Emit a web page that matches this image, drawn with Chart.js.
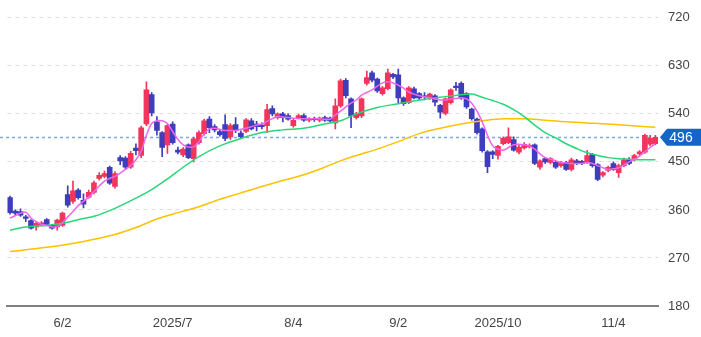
<!DOCTYPE html>
<html><head><meta charset="utf-8">
<script src="https://cdn.jsdelivr.net/npm/chart.js@4/dist/chart.umd.min.js"></script>
<style>html,body{margin:0;padding:0;background:#fff;}canvas{display:block;}</style>
</head><body>
<canvas id="c" width="701" height="337"></canvas>
<script>
const dates = ['5/19','5/20','5/21','5/22','5/23','5/26','5/27','5/28','5/29','5/30',
'6/2','6/3','6/4','6/5','6/6','6/9','6/10','6/11','6/12','6/13','6/16','6/17','6/18','6/19','6/20','6/23','6/24','6/25','6/26','6/27','6/30',
'7/1','7/2','7/3','7/4','7/7','7/8','7/9','7/10','7/11','7/14','7/15','7/16','7/17','7/18','7/22','7/23','7/24','7/25','7/28','7/29','7/30','7/31',
'8/1','8/4','8/5','8/6','8/7','8/8','8/12','8/13','8/14','8/15','8/18','8/19','8/20','8/21','8/22','8/25','8/26','8/27','8/28','8/29',
'9/1','9/2','9/3','9/4','9/5','9/8','9/9','9/10','9/11','9/12','9/16','9/17','9/18','9/19','9/22','9/24','9/25','9/26','9/29','9/30',
'10/1','10/2','10/3','10/6','10/7','10/8','10/9','10/10','10/14','10/15','10/16','10/17','10/20','10/21','10/22','10/23','10/24','10/27','10/28','10/29','10/30','10/31',
'11/4','11/5','11/6','11/7','11/10','11/11','11/12','11/13','11/14'];

const opens = [383,358,357,347,340,328,332,342,331,328, 331,389,376,397,378,384,393,419,423,440, 404,458,457,440,476,462,521,576,525,505, 482,521,472,463,482,456,486,503,530,516, 507,520,497,520,504,507,527,521,519,518, 550,533,540,537,518,533,537,528,531,528, 533,532,523,555,603,568,533,536,597,617, 605,578,587,614,613,570,561,587,578,574, 570,574,556,541,561,592,597,578,549,530, 512,469,469,462,484,486,492,468,476,478, 482,440,456,449,449,443,449,436,452,451, 449,464,445,425,434,447,430,443,454,454, 465,468,483,484];
const highs = [386,360,362,350,342,338,338,344,333,343, 356,405,414,400,390,397,414,430,433,442, 432,462,460,470,484,517,600,580,535,507, 520,525,478,477,484,496,508,530,535,520, 510,538,522,533,508,531,531,526,523,558, 555,542,543,540,530,539,540,533,534,534, 536,534,568,605,606,570,543,570,620,620, 607,591,624,616,624,572,591,590,580,580, 579,576,558,570,587,599,600,580,551,532, 514,471,471,481,497,514,497,481,486,484, 484,454,458,458,451,451,451,457,455,453, 471,466,447,432,442,450,446,457,458,464, 471,502,500,500];
const lows = [352,351,348,338,324,322,330,331,324,322, 329,365,372,380,364,382,390,416,420,408, 401,445,437,438,463,458,518,536,500,460, 466,483,465,460,456,450,483,500,505,506, 498,490,492,505,494,505,510,508,512,505, 536,530,525,528,515,531,526,525,526,525, 526,525,512,552,570,514,530,533,594,600, 580,575,585,606,561,556,559,568,566,566, 567,555,532,538,558,584,567,550,528,502, 468,430,456,455,482,484,470,465,474,476, 445,436,447,446,438,440,434,433,445,445, 447,440,415,422,431,434,421,441,445,452, 462,466,480,482];
const closes = [355,354,350,344,326,335,336,333,326,341, 354,369,396,383,371,393,411,425,428,410, 428,452,440,466,471,514,585,542,509,477, 518,486,468,474,458,493,505,527,514,510, 501,494,518,509,497,529,512,516,516,548, 540,540,533,530,528,537,528,531,529,532, 528,527,555,602,574,536,540,568,608,603, 583,589,617,609,570,559,589,570,570,572, 577,562,543,568,585,589,570,553,531,505, 471,441,464,479,494,497,472,478,483,481, 447,452,450,456,440,449,436,454,447,447, 462,443,417,430,440,436,443,454,447,462, 469,500,494,496];

// short moving average read per candle
const maShort = [345,349,354,356,345,338,333,331,328,329, 336,347,357,368,376,384,394,405,414,419, 423,429,436,443,454,470,500,522,527,527, 522,507,492,482,478,478,488,503,512,513, 511,509,509,509,511,513,516,519,521,526, 531,535,534,533,532,531,531,531,531,531, 530,530,538,545,553,560,566,575,580,585, 592,598,600,598,594,588,581,577,574,572, 570,568,566,566,568,569,570,568,560,545, 525,500,480,474,472,477,482,483,482,480, 474,465,458,455,452,449,448,447,447,447, 449,447,443,439,436,437,439,444,450,455, 461,469,477,484];
// medium & long moving averages read at selected candles [index, value]
const maMidIdx = [0,3,7,10,14,16,20,24,27,30,33,36,40,44,48,52,56,60,63,66,70,74,78,82,86,88,90,92,94,96,98,100,102,104,106,108,110,112,114,116,118,120,123];
const maMidVal = [322,328,331,335,344,348,363,382,398,418,440,460,480,494,505,510,513,521,527,540,552,559,566,571,576,577,571,565,558,548,535,519,505,495,484,475,467,462,458,456,455,454,454];
const maLongIdx = [0,7,14,20,24,28,32,36,40,44,48,52,56,60,63,66,70,74,78,82,86,90,94,98,102,106,110,114,118,123];
const maLongVal = [282,290,301,314,327,343,355,366,380,392,404,415,426,440,452,462,474,488,503,513,521,527,531,531,528,525,523,521,518,515];

const tickDates = ['6/2','7/1','8/4','9/2','10/1','11/4'];
const tickTexts = ['6/2','2025/7','8/4','9/2','2025/10','11/4'];
const yMin = 180, yMax = 720, yStep = 90;

const UP = '#f3345c', DOWN = '#3d3dbd';
const N = dates.length;
function sparse(idx, val){ const a = new Array(N).fill(null); idx.forEach((k,j)=>{a[k]=val[j];}); return a; }
const colors = opens.map((o,i)=> closes[i] >= o ? UP : DOWN);
const FONT = '"Liberation Sans", Arial, sans-serif';

const priceTag = {
  id: 'priceTag',
  beforeDatasetsDraw(chart){
    const {ctx, chartArea:a, scales:{y}} = chart;
    const py = Math.round(y.getPixelForValue(closes[N-1])) + 0.5;
    ctx.save();
    ctx.strokeStyle = '#80a9dc'; ctx.lineWidth = 1.5; ctx.setLineDash([3,3]);
    ctx.beginPath(); ctx.moveTo(0, py); ctx.lineTo(a.right + 2, py); ctx.stroke();
    ctx.restore();
  },
  afterDraw(chart){
    const {ctx, chartArea:a, scales:{y}, width} = chart;
    const v = closes[N-1];
    const py = y.getPixelForValue(v);
    ctx.save();
    ctx.fillStyle = '#1565c8';
    ctx.beginPath();
    ctx.moveTo(a.right + 2, py);
    ctx.lineTo(a.right + 9, py - 8.5);
    ctx.lineTo(width, py - 8.5);
    ctx.lineTo(width, py + 8.5);
    ctx.lineTo(a.right + 9, py + 8.5);
    ctx.closePath(); ctx.fill();
    ctx.fillStyle = '#fff'; ctx.font = '14px ' + FONT;
    ctx.textAlign = 'center'; ctx.textBaseline = 'middle';
    ctx.fillText(String(v), a.right + 23, py + 0.5);
    ctx.restore();
  }
};

new Chart(document.getElementById('c'), {
  data: {
    labels: dates,
    datasets: [
      { type:'line', data: maShort, borderColor:'#ee66ee', borderWidth:1.5, pointRadius:0, tension:0.35, order:0 },
      { type:'line', data: sparse(maMidIdx, maMidVal), borderColor:'#27d779', borderWidth:1.5, pointRadius:0, spanGaps:true, cubicInterpolationMode:'monotone', order:0 },
      { type:'line', data: sparse(maLongIdx, maLongVal), borderColor:'#fcc200', borderWidth:1.5, pointRadius:0, spanGaps:true, cubicInterpolationMode:'monotone', order:0 },
      { type:'bar', data: opens.map((o,i)=>[o, closes[i]]), backgroundColor: colors, barThickness:5, minBarLength:1, grouped:false, order:2 },
      { type:'bar', data: lows.map((l,i)=>[l, highs[i]]), backgroundColor: colors, barThickness:1, grouped:false, order:3 }
    ]
  },
  options: {
    responsive:false, animation:false, devicePixelRatio:1,
    layout:{ padding:{ left:3, top:17, right:0, bottom:0 } },
    plugins:{ legend:{display:false}, tooltip:{enabled:false} },
    scales:{
      x:{ type:'category', offset:true,
          grid:{ display:false, drawTicks:false },
          border:{ display:true, color:'#808080', width:2 },
          ticks:{ autoSkip:false, maxRotation:0, minRotation:0, padding:10, color:'#444', font:{ size:13, family:FONT },
                  callback(v){ const d = this.getLabelForValue(v); const k = tickDates.indexOf(d); return k >= 0 ? tickTexts[k] : ''; } },
          afterFit(s){ s.height = 31; } },
      y:{ position:'right', min:yMin, max:yMax,
          grid:{ color:'#dddddd', drawTicks:false },
          border:{ display:false, dash:[4,4] },
          ticks:{ stepSize:yStep, padding:10, color:'#444', font:{ size:13, family:FONT } },
          afterFit(s){ s.width = 43; } }
    }
  },
  plugins:[priceTag]
});
</script>
</body></html>
